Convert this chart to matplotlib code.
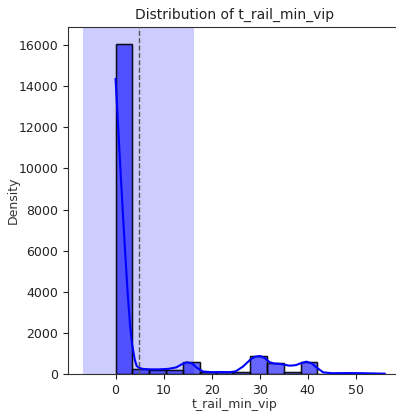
"""
Distribution of t_rail_min_vip: histogram + KDE with mean / ±1 std band.
"""
import matplotlib
matplotlib.use('Agg')
import matplotlib.pyplot as plt
import numpy as np

# histogram counts per bin (16 equal bins from 0 to 56)
x_min = 0.0
x_max = 56.0
counts = [16050, 245, 195, 190, 570, 80, 75, 100, 890, 520, 110, 570, 20, 15, 15, 10]

# KDE curve (scaled to counts)
kde_x = [0.0, 0.5, 1.0, 1.5, 2.0, 2.5, 3.0, 3.4, 4.0, 4.4, 5.0, 5.7, 7.0, 9.0,
         11.0, 12.6, 14.0, 14.9, 16.0, 16.8, 18.2, 20.0, 22.0, 23.75, 25.0,
         26.5, 28.0, 29.0, 30.1, 31.0, 32.1, 33.0, 34.2, 35.3, 36.25, 37.5,
         38.5, 39.7, 40.8, 41.8, 43.2, 45.0, 48.0, 51.0, 54.0, 56.0]
kde_y = [14350, 12200, 10000, 7900, 5900, 4000, 2400, 1500, 680, 390, 290, 245,
         225, 225, 250, 320, 500, 570, 500, 320, 120, 90, 95, 90, 130,
         360, 690, 840, 875, 780, 570, 510, 490, 440, 405, 430,
         520, 600, 520, 320, 80, 40, 45, 40, 25, 15]

mean_val = 4.8
std_val = 11.5

fig = plt.figure(figsize=(3.96, 4.16), dpi=100)
ax = fig.add_axes([68 / 396, 42 / 416, 334 / 396, 347 / 416])

edges = np.linspace(x_min, x_max, len(counts) + 1)
ax.bar(edges[:-1], counts, width=np.diff(edges), align='edge',
       color='blue', alpha=0.6, edgecolor='black', linewidth=1, zorder=2)
ax.bar(edges[:-1], counts, width=np.diff(edges), align='edge',
       fill=False, edgecolor=(0, 0, 0, 0.75), linewidth=1, zorder=3)
ax.plot(kde_x, kde_y, color='blue', linewidth=1.5, zorder=4)

ax.axvspan(mean_val - std_val, mean_val + std_val, color='blue', alpha=0.2,
           linewidth=0, zorder=1)
ax.axvline(mean_val, color='#555555', linestyle='--', linewidth=1, zorder=5)

ax.set_xlim(-9.9, 59.6)
ax.set_ylim(0, 16880)
ax.set_xticks([0, 10, 20, 30, 40, 50])
ax.set_yticks(np.arange(0, 16001, 2000))
ax.tick_params(labelsize=9, colors='#222222')
for s in ax.spines.values():
    s.set_color('#333333')

ax.set_title('Distribution of t_rail_min_vip', fontsize=10, color='#222222')
ax.set_xlabel('t_rail_min_vip', fontsize=9, labelpad=1, color='#333333')
ax.set_ylabel('Density', fontsize=9, labelpad=-1, color='#333333')

fig.savefig('out.png', dpi=100)
